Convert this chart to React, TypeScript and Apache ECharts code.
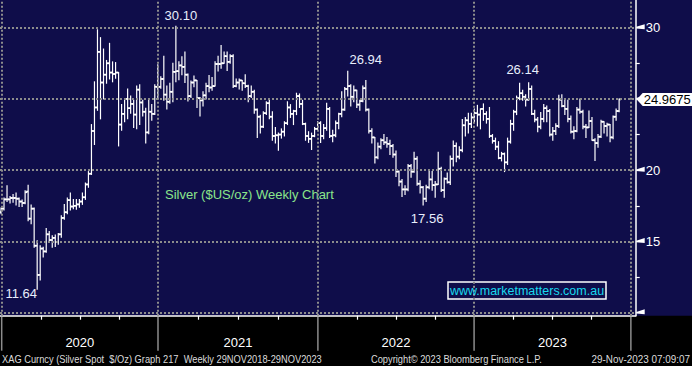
import React, { useEffect, useRef } from 'react';
import * as echarts from 'echarts';

// Weekly OHLC bars [open, high, low, close], one row per week
const bars2020: number[][] = [
  [17.05, 17.35, 16.95, 17.30], [17.30, 18.05, 17.20, 17.95], [17.95, 18.90, 17.80, 17.95], [17.95, 18.15, 17.70, 18.05],
  [18.05, 18.30, 17.75, 18.05], [18.05, 18.40, 17.55, 18.00], [18.00, 18.05, 17.45, 17.80], [17.80, 17.90, 17.45, 17.70],
  [17.70, 18.55, 17.65, 18.45], [18.50, 18.95, 16.45, 16.60], [16.60, 17.55, 16.25, 17.30], [17.30, 17.35, 14.60, 14.70],
  [14.70, 15.05, 11.64, 12.65], [12.65, 14.70, 12.30, 14.50], [14.50, 14.60, 13.90, 14.30], [14.30, 15.90, 14.25, 15.50],
  [15.50, 15.70, 14.95, 15.10], [15.10, 15.40, 14.60, 15.25], [15.25, 15.45, 14.65, 14.95], [14.95, 15.55, 14.80, 15.50],
  [15.50, 16.80, 15.30, 16.65], [16.65, 17.60, 16.55, 17.05], [17.05, 18.05, 16.95, 17.90], [17.90, 18.40, 17.20, 17.45],
  [17.45, 17.95, 17.30, 17.50], [17.50, 17.95, 17.25, 17.60], [17.60, 17.95, 17.40, 17.80], [17.80, 18.40, 17.60, 18.10],
  [18.10, 19.10, 17.95, 19.00], [19.00, 19.90, 18.80, 19.75], [19.75, 23.20, 19.70, 22.75], [22.75, 26.20, 21.80, 24.40],
  [24.40, 29.85, 24.20, 28.30], [28.30, 29.30, 23.60, 26.15], [26.15, 28.50, 25.00, 26.70], [26.70, 27.70, 26.10, 27.50],
  [27.50, 28.90, 26.40, 26.85], [26.85, 27.60, 26.20, 26.75], [26.75, 27.55, 26.45, 26.85], [26.85, 26.85, 21.70, 23.20],
  [23.20, 24.60, 22.80, 23.95], [23.95, 25.00, 23.40, 25.00], [25.00, 25.70, 23.60, 24.35], [24.35, 25.20, 24.00, 24.65],
  [24.65, 24.90, 23.00, 23.90], [23.90, 25.90, 22.90, 25.65], [25.65, 26.00, 23.20, 24.75], [24.75, 24.90, 23.80, 24.10],
  [24.10, 24.35, 21.90, 22.65], [22.65, 24.95, 22.55, 24.10], [24.10, 24.60, 23.50, 23.95], [23.95, 26.00, 23.90, 25.85],
  [25.85, 27.40, 25.00, 25.85],
];
const bars2021: number[][] = [
  [25.85, 26.55, 25.75, 26.40], [26.40, 28.00, 24.90, 25.30], [25.30, 25.90, 24.30, 24.80], [24.80, 26.10, 24.70, 25.50],
  [25.50, 27.50, 24.80, 26.90], [26.90, 30.10, 26.20, 26.95], [26.95, 27.60, 26.35, 27.35], [27.35, 27.95, 26.70, 27.25],
  [27.25, 28.30, 26.15, 26.70], [26.70, 26.75, 24.85, 25.20], [25.20, 26.25, 25.10, 26.15], [26.15, 26.60, 25.85, 26.30],
  [26.30, 26.30, 24.40, 25.05], [25.05, 25.10, 23.80, 24.90], [24.90, 25.50, 24.50, 25.25], [25.25, 26.10, 25.00, 25.90],
  [25.90, 26.65, 25.50, 25.80], [25.80, 26.50, 25.60, 25.90], [25.90, 27.60, 25.90, 27.45], [27.45, 28.00, 26.95, 27.45],
  [27.45, 28.75, 27.15, 27.50], [27.50, 28.30, 27.50, 28.00], [28.00, 28.30, 27.00, 27.60], [27.60, 28.10, 27.50, 28.00],
  [28.00, 28.10, 25.80, 25.90], [25.90, 26.40, 25.85, 26.15], [26.15, 26.40, 25.70, 26.30], [26.30, 26.30, 25.60, 26.10],
  [26.10, 26.70, 25.80, 25.90], [25.90, 25.95, 24.80, 25.20], [25.20, 25.90, 25.10, 25.50], [25.50, 25.60, 24.00, 24.25],
  [24.25, 24.30, 22.30, 23.75], [23.75, 23.85, 22.60, 23.05], [23.05, 24.10, 23.00, 24.00], [24.00, 24.80, 23.90, 24.70],
  [24.70, 24.90, 23.60, 23.75], [23.75, 24.10, 22.10, 22.40], [22.40, 23.00, 21.90, 22.45], [22.45, 22.60, 21.40, 22.50],
  [22.50, 22.90, 22.25, 22.70], [22.70, 23.40, 22.40, 23.30], [23.30, 24.80, 23.20, 24.40], [24.40, 24.60, 23.70, 23.95],
  [23.95, 24.20, 23.20, 24.15], [24.15, 25.40, 23.90, 25.20], [25.20, 25.35, 24.40, 24.65], [24.65, 24.90, 23.20, 23.25],
  [23.25, 23.30, 22.10, 22.40], [22.40, 22.70, 21.95, 22.20], [22.20, 22.60, 21.45, 22.40], [22.40, 23.00, 22.35, 22.90],
  [22.90, 23.40, 22.80, 23.30],
];
const bars2022: number[][] = [
  [23.30, 23.40, 21.95, 22.40], [22.40, 23.20, 22.20, 22.95], [22.95, 24.70, 22.80, 24.30], [24.30, 24.40, 22.30, 22.40],
  [22.40, 22.80, 22.00, 22.45], [22.45, 23.45, 22.35, 23.30], [23.30, 24.00, 22.90, 23.95], [23.95, 25.50, 23.75, 24.25],
  [24.25, 25.80, 24.20, 25.70], [25.70, 26.94, 25.20, 25.90], [25.90, 26.00, 24.50, 25.15], [25.15, 25.90, 24.80, 25.60],
  [25.60, 25.60, 24.40, 24.60], [24.60, 24.90, 24.20, 24.85], [24.85, 25.90, 24.80, 25.75], [25.75, 26.30, 24.15, 24.25],
  [24.25, 24.30, 22.60, 22.75], [22.75, 22.90, 21.90, 22.30], [22.30, 22.30, 20.50, 20.90], [20.90, 21.90, 20.80, 21.65],
  [21.65, 22.20, 21.50, 22.10], [22.10, 22.50, 21.80, 21.95], [21.95, 22.30, 21.60, 21.85], [21.85, 22.10, 21.10, 21.70],
  [21.70, 21.80, 20.90, 21.10], [21.10, 21.35, 19.55, 19.90], [19.90, 19.95, 18.90, 19.20], [19.20, 19.35, 18.15, 18.65],
  [18.65, 18.90, 18.30, 18.65], [18.65, 20.40, 18.55, 20.30], [20.30, 20.40, 19.50, 19.90], [19.90, 21.25, 19.85, 20.80],
  [20.80, 20.95, 18.95, 19.05], [19.05, 19.25, 18.40, 18.80], [18.80, 18.85, 17.56, 18.00], [18.00, 18.95, 17.80, 18.80],
  [18.80, 20.05, 18.70, 19.35], [19.35, 19.90, 18.60, 18.95], [18.95, 19.20, 18.10, 19.00], [19.00, 21.25, 19.00, 20.10],
  [20.10, 20.20, 18.50, 18.60], [18.60, 19.45, 18.10, 19.40], [19.40, 19.80, 19.10, 19.15], [19.15, 21.00, 19.00, 20.80],
  [20.80, 22.05, 20.30, 21.70], [21.70, 21.90, 20.60, 20.95], [20.95, 21.65, 20.80, 21.40], [21.40, 23.55, 21.30, 23.15],
  [23.15, 23.70, 22.40, 23.50], [23.50, 24.00, 22.60, 23.25], [23.25, 24.00, 23.00, 23.70], [23.70, 24.30, 23.40, 24.00],
];
const bars2023: number[][] = [
  [24.00, 24.55, 23.10, 23.90], [23.90, 24.30, 22.90, 24.30], [24.30, 24.65, 23.50, 23.95], [23.95, 24.10, 23.30, 23.60],
  [23.60, 24.40, 22.30, 22.40], [22.40, 22.50, 21.90, 22.05], [22.05, 22.25, 21.45, 21.65], [21.65, 22.00, 20.80, 20.85],
  [20.85, 21.25, 20.65, 21.15], [21.15, 21.20, 19.90, 20.55], [20.55, 22.25, 20.40, 22.00], [22.00, 23.50, 21.90, 23.25],
  [23.25, 24.20, 22.80, 24.10], [24.10, 25.20, 23.90, 25.05], [25.05, 26.10, 24.95, 25.40], [25.40, 25.60, 24.90, 25.15],
  [25.15, 25.30, 24.50, 24.95], [24.95, 26.14, 24.90, 25.70], [25.70, 25.90, 23.90, 23.95], [23.95, 24.20, 23.40, 23.55],
  [23.55, 23.70, 22.70, 23.05], [23.05, 24.05, 22.90, 23.60], [23.60, 24.60, 23.40, 24.35], [24.35, 24.50, 23.40, 24.15],
  [24.15, 24.25, 22.40, 22.50], [22.50, 23.00, 22.10, 22.75], [22.75, 23.25, 22.50, 23.10], [23.10, 25.25, 23.00, 24.95],
  [24.95, 25.30, 24.45, 24.50], [24.50, 24.95, 23.90, 24.30], [24.30, 24.90, 23.40, 23.60], [23.60, 23.80, 22.60, 22.70],
  [22.70, 23.05, 22.20, 22.75], [22.75, 24.40, 22.70, 24.25], [24.25, 25.00, 24.00, 24.10], [24.10, 24.20, 22.90, 23.05],
  [23.05, 23.20, 22.30, 23.00], [23.00, 24.15, 23.00, 23.45], [23.45, 23.70, 22.10, 22.10], [22.10, 22.20, 20.68, 21.90],
  [21.90, 22.50, 21.60, 22.35], [22.35, 23.50, 22.30, 23.40], [23.40, 23.40, 22.60, 23.10], [23.10, 23.30, 22.40, 23.20],
  [23.20, 23.20, 22.00, 22.30], [22.30, 23.80, 22.20, 23.75], [23.75, 24.30, 23.50, 24.15], [24.15, 25.00, 24.10, 24.9675],
];

// Axis ticks / labels (x in week-index units)
const yearLabels = ['2020', '2021', '2022', '2023'];
const yearLinePos = [0.23, 52.07, 105.1, 156.9, 208.9];
const yMajorTicks = [10, 15, 20, 25, 30];
const yMinorTicks = [12.5, 17.5, 22.5, 27.5];
const yLabelledTicks = [15, 20, 30];

// Annotated extremes (week index + which end of the bar)
const extremeIndex = [12, 58, 115, 140, 175];
const extremeKind = ['low', 'high', 'high', 'low', 'high'];

const titleText = 'Silver ($US/oz) Weekly Chart';
const siteText = 'www.marketmatters.com.au';
const sourceText = 'XAG Curncy (Silver Spot  $/Oz) Graph 217  Weekly 29NOV2018-29NOV2023';
const copyrightText = 'Copyright\u00A9 2023 Bloomberg Finance L.P.';
const stampText = '29-Nov-2023 07:09:07';

const X_MIN = -0.33;
const X_MAX = 210.5;
const Y_MIN = 9.79;
const Y_MAX = 31.94;
const NAVY = '#0f0d4a';
const FONT = '"Liberation Sans", Arial, sans-serif';

const labelOffset: Record<number, [number, number]> = {
  12: [-16, 4],
  58: [5, -11],
  115: [18, -12],
  140: [4, 14],
  175: [-6, -13.5],
};

function buildOption(): any {
  const rows = [...bars2020, ...bars2021, ...bars2022, ...bars2023];
  const ohlc = rows.map((r, i) => [i, r[0], r[1], r[2], r[3]]);
  const lastIdx = rows.length - 1;
  const lastClose = rows[lastIdx][3];

  const quarterPos: number[] = [];
  const yearMid: number[] = [];
  for (let k = 0; k < yearLinePos.length - 1; k++) {
    const a = yearLinePos[k];
    const b = yearLinePos[k + 1];
    for (let q = 1; q < 4; q++) quarterPos.push(a + ((b - a) * q) / 4);
    yearMid.push((a + b) / 2);
  }

  const extremes = extremeIndex.map((idx, k) => [idx, extremeKind[k] === 'low' ? rows[idx][2] : rows[idx][1]]);

  return {
    animation: false,
    backgroundColor: '#000',
    grid: { left: 0, top: 0, right: 56.3, bottom: 50.3, containLabel: false },
    xAxis: {
      type: 'value',
      min: X_MIN,
      max: X_MAX,
      position: 'bottom',
      axisLine: { show: true, onZero: false, lineStyle: { color: '#fff', width: 1.5 } },
      axisTick: { show: true, customValues: quarterPos, length: 4, lineStyle: { color: '#fff', width: 1.2 } },
      axisLabel: {
        show: true,
        customValues: yearMid,
        formatter: (v: number) => {
          let best = 0;
          yearMid.forEach((m, k) => {
            if (Math.abs(m - v) < Math.abs(yearMid[best] - v)) best = k;
          });
          return yearLabels[best];
        },
        color: '#fff',
        fontSize: 13,
        fontFamily: FONT,
        margin: 20,
      },
      splitLine: { show: false },
    },
    yAxis: {
      type: 'value',
      min: Y_MIN,
      max: Y_MAX,
      position: 'right',
      axisLine: { show: true, onZero: false, lineStyle: { color: '#fff', width: 1.5 } },
      axisTick: { show: true, customValues: yMinorTicks, length: 4, lineStyle: { color: '#fff', width: 1.2 } },
      axisLabel: {
        show: true,
        customValues: yLabelledTicks,
        color: '#fff',
        fontSize: 13,
        fontFamily: FONT,
        margin: 10,
      },
      splitLine: { show: false },
    },
    graphic: [
      { type: 'rect', z: -10, silent: true, shape: { x: 0, y: 0, width: 692, height: 315.7 }, style: { fill: NAVY } },
      {
        type: 'text', x: 165, y: 194, z: 5,
        style: { text: titleText, fill: '#8ae68a', font: `13px ${FONT}`, align: 'left', verticalAlign: 'middle' },
      },
      {
        type: 'rect', x: 448, y: 282, z: 5,
        shape: { x: 0, y: 0, width: 158, height: 17 },
        style: { fill: NAVY, stroke: '#fff', lineWidth: 1.5 },
      },
      {
        type: 'text', x: 527, y: 290.8, z: 6,
        style: { text: siteText, fill: '#19d9ee', font: `12.5px ${FONT}`, align: 'center', verticalAlign: 'middle' },
      },
      {
        type: 'text', x: 2, y: 359, z: 5, scaleX: 0.845,
        style: { text: sourceText, fill: '#dcdcdc', font: `11px ${FONT}`, align: 'left', verticalAlign: 'middle' },
      },
      {
        type: 'text', x: 371, y: 359, z: 5, scaleX: 0.845,
        style: { text: copyrightText, fill: '#dcdcdc', font: `11px ${FONT}`, align: 'left', verticalAlign: 'middle' },
      },
      {
        type: 'text', x: 690, y: 359, z: 5, scaleX: 0.9,
        style: { text: stampText, fill: '#dcdcdc', font: `11px ${FONT}`, align: 'right', verticalAlign: 'middle' },
      },
    ],
    series: [
      {
        // dotted grid + long year ticks below the axis
        type: 'custom',
        name: 'yearTicks',
        z: 1,
        clip: false,
        data: yearLinePos.map((v) => [v, Y_MIN]),
        encode: { x: 0, y: 1 },
        renderItem: (params: any, api: any) => {
          const p = api.coord([api.value(0), Y_MIN]);
          return {
            type: 'line',
            shape: { x1: p[0], y1: p[1] + 1, x2: p[0], y2: p[1] + 35 },
            style: { stroke: '#8c8c8c', lineWidth: 1.5 },
          };
        },
        markLine: {
          silent: true,
          symbol: ['none', 'none'],
          label: { show: false },
          lineStyle: { color: '#8c8c8c', width: 2, type: [2, 2] },
          data: [
            ...yMajorTicks.map((v) => ({ yAxis: v })),
            ...yearLinePos.map((v) => ({ xAxis: v })),
          ],
        },
      },
      {
        type: 'custom',
        name: 'XAG',
        z: 3,
        clip: false,
        data: ohlc,
        encode: { x: 0, y: [1, 2, 3, 4] },
        renderItem: (params: any, api: any) => {
          const i = api.value(0);
          const o = api.coord([i, api.value(1)]);
          const h = api.coord([i, api.value(2)]);
          const l = api.coord([i, api.value(3)]);
          const c = api.coord([i, api.value(4)]);
          const x = h[0];
          return {
            type: 'group',
            children: [
              { type: 'line', shape: { x1: x, y1: h[1] - 0.5, x2: x, y2: l[1] + 0.5 }, style: { stroke: '#fff', lineWidth: 1.2 } },
              { type: 'line', shape: { x1: x - 2, y1: o[1], x2: x, y2: o[1] }, style: { stroke: '#fff', lineWidth: 1.7 } },
              { type: 'line', shape: { x1: x, y1: c[1], x2: x + 2, y2: c[1] }, style: { stroke: '#fff', lineWidth: 1.7 } },
            ],
          };
        },
      },
      {
        // triangular markers on the right axis
        type: 'custom',
        name: 'axisMarks',
        z: 4,
        clip: false,
        data: yMajorTicks.map((v) => [X_MAX, v]),
        encode: { x: 0, y: 1 },
        renderItem: (params: any, api: any) => {
          const p = api.coord([api.value(0), api.value(1)]);
          const ax = p[0] + 0.5;
          const y = p[1];
          return {
            type: 'polygon',
            shape: { points: [[ax, y - 0.8], [ax + 8.5, y - 3.5], [ax + 8.5, y + 1.5], [ax, y + 0.8]] },
            style: { fill: '#fff' },
          };
        },
      },
      {
        // last-price tag
        type: 'custom',
        name: 'lastPrice',
        z: 6,
        clip: false,
        data: [[lastIdx, lastClose]],
        encode: { x: 0, y: 1 },
        renderItem: (params: any, api: any) => {
          const y = api.coord([api.value(0), api.value(1)])[1];
          const ax = params.coordSys.x + params.coordSys.width;
          return {
            type: 'group',
            children: [
              {
                type: 'polygon',
                shape: { points: [[ax + 1, y], [ax + 7, y - 6.5], [ax + 57, y - 6.5], [ax + 57, y + 6.5], [ax + 7, y + 6.5]] },
                style: { fill: '#fff' },
              },
              {
                type: 'text',
                x: ax + 8,
                y: y + 0.5,
                style: { text: String(api.value(1)), fill: '#000', font: `13px ${FONT}`, align: 'left', verticalAlign: 'middle' },
              },
            ],
          };
        },
      },
      {
        // extreme value annotations
        type: 'custom',
        name: 'extremes',
        z: 5,
        clip: false,
        data: extremes,
        encode: { x: 0, y: 1 },
        renderItem: (params: any, api: any) => {
          const idx = api.value(0);
          const v = api.value(1);
          const p = api.coord([idx, v]);
          const off = labelOffset[idx] || [0, -12];
          return {
            type: 'text',
            x: p[0] + off[0],
            y: p[1] + off[1],
            style: { text: v.toFixed(2), fill: '#e8eefc', font: `13px ${FONT}`, align: 'center', verticalAlign: 'middle' },
          };
        },
      },
    ],
  };
}

export default function App() {
  const ref = useRef<HTMLDivElement>(null);
  useEffect(() => {
    document.body.style.margin = '0';
    const chart = echarts.init(ref.current as HTMLDivElement, null, { renderer: 'svg' });
    chart.setOption(buildOption());
    return () => chart.dispose();
  }, []);
  return <div ref={ref} style={{ position: 'absolute', left: 0, top: 0, width: 692, height: 366 }} />;
}
